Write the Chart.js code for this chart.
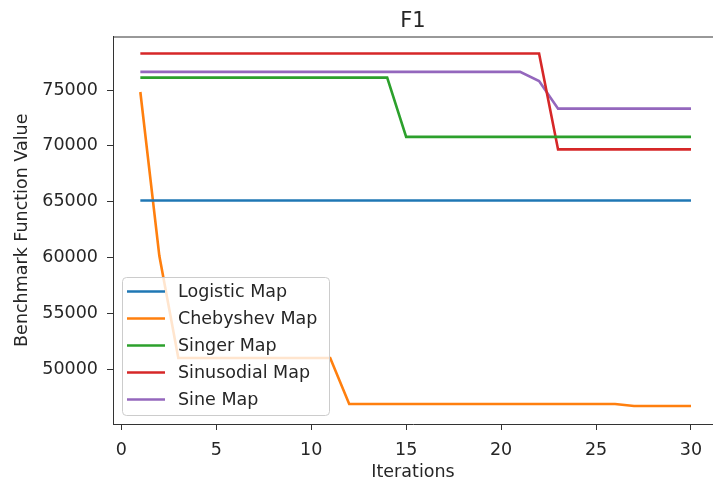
<!DOCTYPE html>
<html>
<head>
<meta charset="utf-8">
<script src="https://cdn.jsdelivr.net/npm/chart.js@4/dist/chart.umd.min.js"></script>
<style>
  html, body { margin: 0; padding: 0; background: #fff; }
  #wrap { width: 713px; height: 483px; }
</style>
</head>
<body>
<div id="wrap"><canvas id="myChart" width="713" height="483"></canvas></div>
<script>
// data
const iterations = [1, 2, 3, 4, 5, 6, 7, 8, 9, 10, 11, 12, 13, 14, 15, 16, 17, 18, 19, 20, 21, 22, 23, 24, 25, 26, 27, 28, 29, 30];
const logistic = [65100, 65100, 65100, 65100, 65100, 65100, 65100, 65100, 65100, 65100, 65100, 65100, 65100, 65100, 65100, 65100, 65100, 65100, 65100, 65100, 65100, 65100, 65100, 65100, 65100, 65100, 65100, 65100, 65100, 65100];
const chebyshev = [74820, 60150, 51000, 51000, 51000, 51000, 51000, 51000, 51000, 51000, 51000, 46880, 46880, 46880, 46880, 46880, 46880, 46880, 46880, 46880, 46880, 46880, 46880, 46880, 46880, 46880, 46700, 46700, 46700, 46700];
const singer = [76110, 76110, 76110, 76110, 76110, 76110, 76110, 76110, 76110, 76110, 76110, 76110, 76110, 76110, 70800, 70800, 70800, 70800, 70800, 70800, 70800, 70800, 70800, 70800, 70800, 70800, 70800, 70800, 70800, 70800];
const sinusoidal = [78270, 78270, 78270, 78270, 78270, 78270, 78270, 78270, 78270, 78270, 78270, 78270, 78270, 78270, 78270, 78270, 78270, 78270, 78270, 78270, 78270, 78270, 69680, 69680, 69680, 69680, 69680, 69680, 69680, 69680];
const sine = [76620, 76620, 76620, 76620, 76620, 76620, 76620, 76620, 76620, 76620, 76620, 76620, 76620, 76620, 76620, 76620, 76620, 76620, 76620, 76620, 76620, 75810, 73330, 73330, 73330, 73330, 73330, 73330, 73330, 73330];

const seriesNames = ["Logistic Map", "Chebyshev Map", "Singer Map", "Sinusodial Map", "Sine Map"];
const seriesValues = [logistic, chebyshev, singer, sinusoidal, sine];
const colors = ["#1f77b4", "#ff7f0e", "#2ca02c", "#d62728", "#9467bd"];
const xTicks = [0, 5, 10, 15, 20, 25, 30];
const yTicks = [50000, 55000, 60000, 65000, 70000, 75000];

const FONT = "DejaVu Sans";
const TEXT = "#262626";
const AXIS = "#333333";

// top spine + legend box in the lower left of the plot
const framePlugin = {
  id: "frame",
  afterDatasetsDraw(chart) {
    const { ctx, chartArea: a } = chart;
    ctx.save();
    ctx.strokeStyle = AXIS;
    ctx.lineWidth = 1;
    ctx.beginPath();
    ctx.moveTo(a.left, a.top + 0.5);
    ctx.lineTo(a.right, a.top + 0.5);
    ctx.stroke();

    const rowH = 27;
    const bx = a.left + 9, bw = 207, bh = 138;
    const by = a.bottom - 9 - bh;
    ctx.beginPath();
    ctx.roundRect(bx + 0.5, by + 0.5, bw, bh, 4);
    ctx.fillStyle = "rgba(255,255,255,0.8)";
    ctx.fill();
    ctx.strokeStyle = "#cccccc";
    ctx.stroke();

    ctx.font = "17.5px '" + FONT + "'";
    ctx.textBaseline = "middle";
    chart.data.datasets.forEach((ds, i) => {
      const cy = by + 14.5 + i * rowH;
      ctx.strokeStyle = ds.borderColor;
      ctx.lineWidth = 2.6;
      ctx.beginPath();
      ctx.moveTo(bx + 5, cy);
      ctx.lineTo(bx + 43, cy);
      ctx.stroke();
      ctx.fillStyle = TEXT;
      ctx.fillText(ds.label, bx + 56, cy + 1);
    });
    ctx.restore();
  }
};

const ctx = document.getElementById("myChart").getContext("2d");
window.myChart = new Chart(ctx, {
  type: "line",
  data: {
    datasets: seriesNames.map((name, i) => ({
      label: name,
      data: iterations.map((it, j) => ({ x: it, y: seriesValues[i][j] })),
      borderColor: colors[i],
      backgroundColor: colors[i],
      borderWidth: 2.6,
      pointRadius: 0,
      tension: 0,
      fill: false,
    })),
  },
  options: {
    responsive: false,
    animation: false,
    layout: { padding: 0 },
    plugins: {
      legend: { display: false },
      tooltip: { enabled: false },
      title: {
        display: true,
        text: "F1",
        fullSize: false,
        color: TEXT,
        font: { family: FONT, size: 21, weight: "normal", lineHeight: 1 },
        padding: { top: 11, bottom: 4.5 },
      },
    },
    scales: {
      x: {
        type: "linear",
        min: -0.44,
        max: 31.16,
        afterBuildTicks: (s) => { s.ticks = xTicks.map((v) => ({ value: v })); },
        afterFit: (s) => { s.height = 59; },
        grid: { drawOnChartArea: false, drawTicks: true, tickLength: 6, color: AXIS },
        border: { display: true, color: AXIS, width: 1 },
        ticks: { color: TEXT, font: { family: FONT, size: 17.5 }, padding: 10, maxRotation: 0 },
        title: {
          display: true,
          text: "Iterations",
          color: TEXT,
          font: { family: FONT, size: 17.5 },
          padding: { top: 0, bottom: 0 },
        },
      },
      y: {
        min: 45091,
        max: 79792,
        afterBuildTicks: (s) => { s.ticks = yTicks.map((v) => ({ value: v })); },
        afterFit: (s) => { s.width = 113; },
        grid: { drawOnChartArea: false, drawTicks: true, tickLength: 6, color: AXIS },
        border: { display: true, color: AXIS, width: 1 },
        ticks: {
          color: TEXT,
          font: { family: FONT, size: 17.5 },
          padding: 9,
          callback: (v) => String(v),
        },
        title: {
          display: true,
          text: "Benchmark Function Value",
          color: TEXT,
          font: { family: FONT, size: 17.5 },
          padding: { top: 12, bottom: 0 },
        },
      },
    },
  },
  plugins: [framePlugin],
});
</script>
</body>
</html>
